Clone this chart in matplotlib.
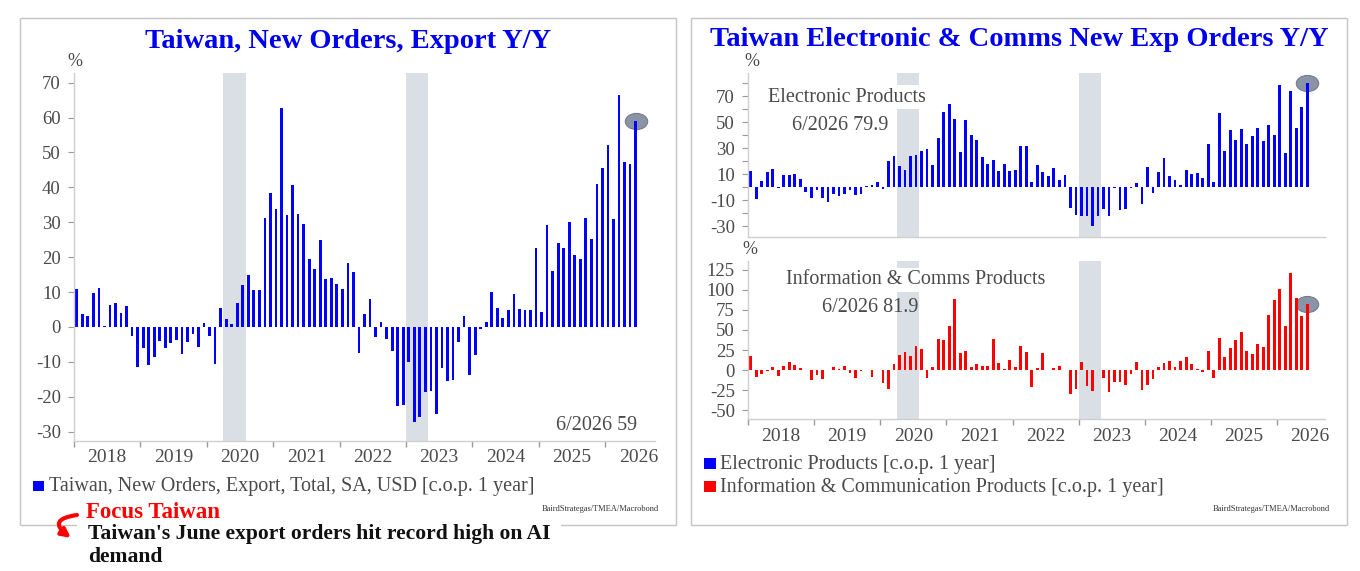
import matplotlib
matplotlib.use("Agg")
import matplotlib.pyplot as plt
import numpy as np
import pandas as pd
from matplotlib.patches import Rectangle, FancyArrowPatch
from matplotlib.path import Path
from matplotlib.transforms import offset_copy

plt.rcParams["font.family"] = ["Liberation Serif", "DejaVu Serif"]

# monthly observations, Jan 2018 .. Jun 2026
months = pd.date_range("2018-01-01", "2026-06-01", freq="MS")
years = [str(y) for y in range(2018, 2027)]
shaded = [("2020-04", "2020-08"), ("2023-01", "2023-05")]

export_orders = [
    10.8, 3.6, 3.2, 9.6, 11.3, 0.2, 6.4, 6.8, 4.1, 5.9, -2.5, -11.5,
    -6.0, -10.8, -8.7, -4.1, -5.9, -4.5, -3.8, -7.9, -4.4, -2.1, -5.8, 1.0,
    -2.5, -10.5, 5.3, 2.4, 0.7, 7.0, 12.1, 14.9, 10.6, 10.5, 31.2, 38.3,
    33.9, 62.8, 32.0, 40.8, 32.4, 29.6, 19.6, 16.7, 25.0, 13.8, 14.0, 12.3,
    10.9, 18.3, 15.6, -7.4, 3.6, 8.1, -3.0, 1.3, -3.4, -6.8, -22.6, -22.4,
    -10.0, -27.2, -25.7, -18.6, -18.4, -25.1, -11.7, -15.4, -15.1, -4.4, 3.2, -13.9,
    -8.1, -0.6, 1.3, 10.0, 5.5, 2.7, 4.9, 9.4, 5.1, 4.9, 4.9, 22.7,
    4.3, 29.2, 16.1, 24.1, 22.7, 30.1, 20.5, 19.4, 31.3, 25.1, 40.9, 45.5,
    52.2, 30.8, 66.4, 47.3, 46.7, 59.0,
]

electronic = [
    12.3, -9.0, 5.1, 11.8, 13.8, -0.3, 9.5, 9.5, 10.3, 6.2, -3.6, -8.5,
    -1.8, -8.5, -11.3, -4.9, -6.9, -4.9, -1.8, -5.9, -4.9, 1.0, 1.5, 4.4,
    -1.5, 20.0, 23.8, 16.2, 13.3, 23.8, 25.1, 28.2, 29.2, 17.2, 37.7, 58.2,
    64.4, 52.6, 27.2, 51.5, 40.3, 36.2, 23.1, 17.7, 21.0, 12.8, 17.7, 12.3,
    13.1, 31.8, 31.8, 3.8, 17.2, 11.5, 8.7, 14.9, 5.6, 9.2, -15.6, -21.3,
    -22.3, -22.3, -29.7, -22.3, -16.7, -22.3, -0.3, -17.4, -16.9, -0.3, 3.3, -13.1,
    15.9, -4.4, 11.8, 22.3, 9.0, 5.9, 1.8, 13.1, 10.5, 11.0, 6.9, 33.3,
    4.4, 57.4, 27.9, 43.8, 36.4, 44.9, 33.1, 39.5, 45.9, 35.6, 47.9, 40.0,
    78.7, 26.2, 73.8, 45.9, 61.5, 79.9,
]

info_comms = [
    17.5, -8.8, -4.6, -1.0, 4.2, -7.5, 5.4, 9.6, 6.3, 2.9, 0.5, -12.9,
    -6.3, -11.3, 0.3, 3.3, 1.7, 4.6, -3.3, -9.6, -1.0, 0.3, -8.3, -0.5,
    -16.3, -23.8, 7.1, 18.3, 22.1, 17.1, 30.0, 26.3, -9.6, 4.2, 39.2, 37.9,
    55.4, 88.3, 21.3, 23.8, 4.2, 7.1, 4.6, 4.6, 38.8, 8.8, 1.7, 12.5,
    4.2, 30.0, 22.9, -21.3, 2.1, 21.7, -0.4, 2.5, 5.0, 0.3, -30.4, -23.8,
    10.0, -20.0, -26.3, -0.5, -9.6, -27.1, -14.6, -14.6, -19.2, -5.0, 10.0, -25.4,
    -19.2, -11.3, 4.2, 8.3, 11.3, 3.8, 10.8, 15.8, 7.1, 1.0, -2.5, 24.2,
    -10.4, 40.0, 16.7, 27.1, 37.5, 47.1, 23.8, 20.4, 32.9, 28.3, 69.2, 87.9,
    101.7, 55.4, 120.8, 89.6, 67.1, 81.9,
]

W, H = 1360, 571
TXT = "#4a4a4a"
SPINE = "#cfcfcf"
SHADE = "#dadee5"
TITLE_BLUE = "#0000f0"


def fbox(x0, y0, x1, y1):
    return [x0 / W, 1 - y1 / H, (x1 - x0) / W, (y1 - y0) / H]


def fpt(x, y):
    return x / W, 1 - y / H


def month_pos(s):
    d = pd.Timestamp(s)
    return (d.year - 2018) * 12 + d.month - 1


def ellipse_marker():
    c = Path.unit_circle()
    return Path(c.vertices * [1.0, 0.72], c.codes)


def draw_panel(ax, values, color, xmax, ylim, yticks, ylabels, year_labels, label_offset):
    x = np.arange(len(months)) + 0.5
    for a, b in shaded:
        ax.axvspan(month_pos(a), month_pos(b), color=SHADE, lw=0, zorder=0)
    ax.bar(x, values, width=0.5, color=color, linewidth=0, zorder=2)
    ax.scatter([x[-1]], [values[-1]], marker=ellipse_marker(), s=260,
               color="#8a94a6", edgecolors="#737d90", linewidths=0.8, zorder=1)
    ax.set_xlim(0, xmax)
    ax.set_ylim(*ylim)
    for side in ("top", "right"):
        ax.spines[side].set_visible(False)
    for side in ("left", "bottom"):
        ax.spines[side].set_color(SPINE)
        ax.spines[side].set_linewidth(1.0)
    ax.set_yticks(yticks)
    ax.set_yticklabels(ylabels)
    ax.tick_params(axis="y", length=4.5, width=0.8, color="#9a9a9a",
                   labelcolor=TXT, labelsize=13.5, pad=5)
    ax.set_facecolor("none")
    if year_labels:
        ax.set_xticks(range(0, 12 * len(years), 12))
        ax.set_xticklabels([])
        ax.tick_params(axis="x", length=4, width=1.0, color="#9a9a9a")
        trans = offset_copy(ax.get_xaxis_transform(), fig=ax.figure,
                            y=-label_offset, units="dots")
        for i, yr in enumerate(years):
            ax.text(12 * i + 6, 0, yr, transform=trans, ha="center", va="center",
                    fontsize=14, color=TXT)
    else:
        ax.set_xticks([])


fig = plt.figure(figsize=(W / 100, H / 100), dpi=100)

# panel frames
for x0, x1 in ((20, 676), (691, 1347)):
    fig.add_artist(Rectangle(fpt(x0, 525), (x1 - x0) / W, 507 / H,
                             transform=fig.transFigure, fill=False,
                             ec="#c4c4c4", lw=1.0, zorder=0))

# left chart
ax1 = fig.add_axes(fbox(74, 73.3, 655, 441))
draw_panel(ax1, export_orders, "#0000ff", 105, (-32.7, 72.7),
           range(-30, 80, 10), [str(v) for v in range(-30, 80, 10)], True, 16)
fig.text(*fpt(348, 41), "Taiwan, New Orders, Export Y/Y", ha="center", va="center",
         fontsize=20.5, fontweight="bold", color=TITLE_BLUE)
fig.text(*fpt(75, 62), "%", ha="center", va="center", fontsize=13, color=TXT)
fig.text(*fpt(637, 425), "6/2026 59", ha="right", va="center", fontsize=14.5, color=TXT)
fig.add_artist(Rectangle(fpt(33, 491), 11 / W, 10 / H, transform=fig.transFigure,
                         color="#0000ff", lw=0))
fig.text(*fpt(49, 487), "Taiwan, New Orders, Export, Total, SA, USD [c.o.p. 1 year]",
         ha="left", va="center", fontsize=14.5, color=TXT)
fig.text(*fpt(659, 509), "BairdStrategas/TMEA/Macrobond", ha="right", va="center",
         fontsize=6, color="#333333")

# news caption over the frame
fig.add_artist(Rectangle(fpt(77, 571), 484 / W, 56 / H, transform=fig.transFigure,
                         color="white", lw=0, zorder=1))
fig.text(*fpt(86, 512), "Focus Taiwan", ha="left", va="center", fontsize=16.5,
         fontweight="bold", color="#ff0000", zorder=2)
fig.text(*fpt(88, 534), "Taiwan's June export orders hit record high on AI",
         ha="left", va="center", fontsize=15.6, fontweight="bold", color="#111111", zorder=2)
fig.text(*fpt(88, 557), "demand", ha="left", va="center", fontsize=15.6,
         fontweight="bold", color="#111111", zorder=2)
fig.add_artist(FancyArrowPatch(fpt(77, 515), fpt(71, 538), transform=fig.transFigure,
                               connectionstyle="arc3,rad=1.2", arrowstyle="-|>",
                               shrinkA=0, shrinkB=0, mutation_scale=13,
                               color="#ff0000", lw=3.0, zorder=2))

# right charts
ax2 = fig.add_axes(fbox(748, 73.3, 1325, 236.7))
top_ticks = list(range(-30, 90, 10))
top_labels = [str(v) if v in (70, 50, 30, 10, -10, -30) else "" for v in top_ticks]
draw_panel(ax2, electronic, "#0000ff", 104.7, (-38, 87.7),
           top_ticks, top_labels, False, 0)

ax3 = fig.add_axes(fbox(748, 260.7, 1325, 419.3))
draw_panel(ax3, info_comms, "#ff0000", 104.7, (-61.6, 136.6),
           range(-50, 150, 25), [str(v) for v in range(-50, 150, 25)], True, 17)

fig.text(*fpt(1019, 40), "Taiwan Electronic & Comms New Exp Orders Y/Y", ha="center",
         va="center", fontsize=20.5, fontweight="bold", color=TITLE_BLUE)
fig.text(*fpt(752, 62), "%", ha="center", va="center", fontsize=13, color=TXT)
fig.text(*fpt(750, 249), "%", ha="center", va="center", fontsize=13, color=TXT)

box = dict(fc="white", ec="none", pad=2)
fig.text(*fpt(768, 97), "Electronic Products", ha="left", va="center", fontsize=14.5,
         color=TXT, bbox=box)
fig.text(*fpt(792, 125), "6/2026 79.9", ha="left", va="center", fontsize=14.5, color=TXT)
fig.text(*fpt(786, 280), "Information & Comms Products", ha="left", va="center",
         fontsize=14.5, color=TXT, bbox=box)
fig.text(*fpt(822, 307), "6/2026 81.9", ha="left", va="center", fontsize=14.5, color=TXT)

fig.add_artist(Rectangle(fpt(704, 469), 12 / W, 11 / H, transform=fig.transFigure,
                         color="#0000ff", lw=0))
fig.text(*fpt(720, 464), "Electronic Products [c.o.p. 1 year]", ha="left", va="center",
         fontsize=14.5, color=TXT)
fig.add_artist(Rectangle(fpt(704, 492), 12 / W, 11 / H, transform=fig.transFigure,
                         color="#ff0000", lw=0))
fig.text(*fpt(720, 487), "Information & Communication Products [c.o.p. 1 year]",
         ha="left", va="center", fontsize=14.5, color=TXT)
fig.text(*fpt(1330, 509), "BairdStrategas/TMEA/Macrobond", ha="right", va="center",
         fontsize=6, color="#333333")

fig.savefig("out.png", dpi=100, facecolor="white")
